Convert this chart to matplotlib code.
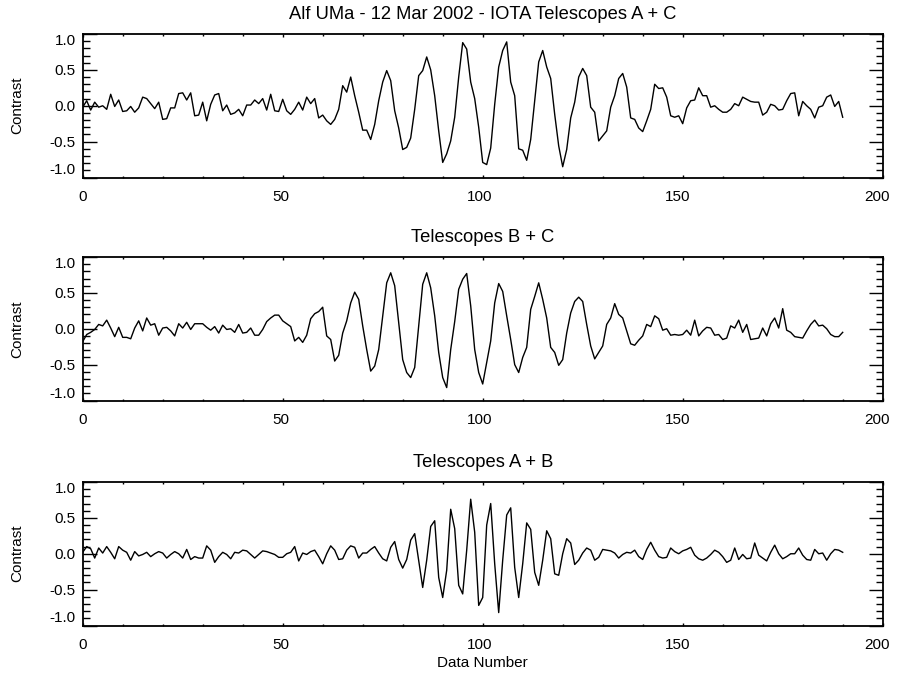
import numpy as np
import matplotlib.pyplot as plt
import matplotlib.transforms as mtransforms
from matplotlib.ticker import MultipleLocator, FixedLocator

# contrast values (data numbers 0..190)
contrast_ac = ([-0.02, 0.07, -0.06, 0.05, -0.02, 0.0, -0.05, 0.16, -0.01, 0.08,
                -0.08, -0.07, -0.01, -0.09, -0.03, 0.12, 0.10, 0.03, -0.04, 0.05,
                -0.19, -0.18, -0.03, -0.03, 0.17, 0.18, 0.08, 0.18, -0.14, -0.13,
                0.05, -0.21, 0.02, 0.15, 0.17, -0.07, 0.01, -0.12, -0.10, -0.05,
                -0.14, 0.01, 0.01, 0.08, 0.03, 0.10, -0.06, 0.16, -0.07, -0.08]
               + [0.09, -0.07, -0.12, -0.05, 0.05, -0.06, 0.12, 0.03, 0.10, -0.17,
                  -0.13, -0.21, -0.26, -0.19, -0.05, 0.28, 0.19, 0.40, 0.14, -0.09,
                  -0.34, -0.34, -0.47, -0.26, 0.07, 0.33, 0.49, 0.35, -0.07, -0.31,
                  -0.61, -0.58, -0.45, -0.05, 0.42, 0.49, 0.68, 0.50, 0.14, -0.35,
                  -0.79, -0.67, -0.49, -0.16, 0.40, 0.88, 0.79, 0.33, 0.10, -0.30]
               + [-0.79, -0.82, -0.59, 0.02, 0.54, 0.77, 0.89, 0.33, 0.14, -0.60,
                  -0.62, -0.76, -0.47, 0.07, 0.61, 0.77, 0.54, 0.38, -0.12, -0.56,
                  -0.85, -0.61, -0.17, 0.05, 0.40, 0.52, 0.42, -0.02, -0.09, -0.49,
                  -0.42, -0.35, -0.02, 0.14, 0.38, 0.45, 0.26, -0.17, -0.19, -0.31,
                  -0.36, -0.21, -0.05, 0.30, 0.24, 0.25, 0.12, -0.14, -0.16, -0.14]
               + [-0.25, -0.03, 0.07, 0.08, 0.25, 0.14, 0.14, -0.02, 0.0, -0.05,
                  -0.09, -0.09, -0.05, 0.03, 0.0, 0.12, 0.09, 0.06, 0.05, 0.05,
                  -0.13, -0.09, 0.02, 0.0, -0.06, -0.05, 0.07, 0.17, 0.18, -0.14,
                  0.06, 0.0, -0.05, -0.17, -0.02, 0.0, 0.12, 0.15, -0.01, 0.06,
                  -0.16])

contrast_bc = ([-0.18, -0.08, -0.05, -0.01, 0.06, 0.04, 0.12, 0.01, -0.11, 0.02,
                -0.12, -0.12, -0.14, 0.01, 0.11, -0.03, 0.15, 0.05, 0.07, -0.09,
                0.01, 0.02, -0.03, -0.10, 0.07, 0.01, 0.09, -0.01, 0.07, 0.07,
                0.07, 0.02, -0.02, 0.03, -0.06, 0.05, -0.01, 0.0, -0.05, 0.06,
                -0.06, -0.05, 0.01, -0.09, -0.09, -0.01, 0.10, 0.15]
               + [0.19, 0.19, 0.11, 0.07, 0.03, -0.17, -0.12, -0.19, -0.09, 0.14,
                  0.21, 0.24, 0.30, -0.10, -0.15, -0.45, -0.37, -0.06, 0.11, 0.36,
                  0.51, 0.41, 0.04, -0.29, -0.59, -0.52, -0.29, 0.17, 0.64, 0.78,
                  0.60, 0.08, -0.43, -0.61, -0.68, -0.54, 0.04, 0.62, 0.78, 0.57,
                  0.18, -0.33, -0.68, -0.82, -0.29, 0.10, 0.55, 0.69, 0.77, 0.32,
                  -0.29, -0.61]
               + [-0.77, -0.47, -0.17, 0.36, 0.63, 0.52, 0.18, -0.15, -0.50, -0.61,
                  -0.40, -0.26, 0.27, 0.45, 0.64, 0.41, 0.15, -0.26, -0.33, -0.51,
                  -0.43, -0.06, 0.22, 0.38, 0.44, 0.38, 0.06, -0.24, -0.42, -0.33,
                  -0.24, 0.06, 0.15, 0.35, 0.20, 0.15, -0.03, -0.21, -0.23, -0.16,
                  -0.10, 0.06, 0.03, 0.18, 0.14, -0.02, 0.0, -0.09, -0.08, -0.09]
               + [-0.08, -0.02, -0.09, 0.12, -0.10, -0.03, 0.02, 0.01, -0.09, -0.08,
                  -0.15, -0.13, 0.04, 0.01, 0.12, -0.05, 0.06, -0.15, -0.14, -0.13,
                  0.01, -0.10, 0.07, 0.15, 0.01, 0.28, -0.02, -0.05, -0.11, -0.12,
                  -0.13, -0.03, 0.06, 0.12, 0.04, 0.05, 0.0, -0.08, -0.11, -0.11,
                  -0.05])

contrast_ab = ([0.02, 0.10, 0.07, -0.06, 0.08, 0.01, 0.10, 0.02, -0.07, 0.10,
                0.05, 0.02, -0.09, 0.03, -0.03, -0.01, 0.02, -0.04, 0.0, 0.03,
                0.01, -0.06, -0.01, 0.03, 0.0, -0.06, 0.06, -0.08, -0.04, -0.06,
                -0.06, 0.11, 0.05, -0.12, -0.04, 0.02, -0.01, -0.07, 0.02, 0.01,
                0.05, 0.04, -0.01, -0.06, -0.01, 0.04, 0.03]
               + [0.01, -0.01, -0.05, -0.05, 0.0, 0.02, 0.10, -0.10, 0.01, -0.01,
                  0.03, 0.05, -0.04, -0.14, 0.0, 0.11, 0.05, -0.08, -0.07, 0.05,
                  0.11, 0.09, -0.06, 0.01, 0.01, 0.06, 0.10, 0.01, -0.07, -0.10,
                  0.09, 0.17, -0.08, -0.20, -0.08, 0.19, 0.28, -0.09, -0.47, -0.09,
                  0.38, 0.46, -0.33, -0.61, -0.23, 0.62, 0.35, -0.44, -0.56, 0.05,
                  0.76]
               + [0.30, -0.72, -0.61, 0.40, 0.70, -0.14, -0.82, -0.09, 0.54, 0.64,
                  -0.19, -0.61, -0.14, 0.43, 0.34, -0.26, -0.44, -0.09, 0.32, 0.21,
                  -0.28, -0.30, 0.0, 0.21, 0.15, -0.15, -0.09, 0.01, 0.08, 0.05,
                  -0.09, -0.05, 0.06, 0.05, 0.04, 0.01, -0.06, -0.01, 0.02, 0.01,
                  0.05, -0.04, -0.08, 0.06, 0.16, 0.05, -0.04, -0.06, -0.05, 0.08,
                  0.03, 0.0]
               + [0.04, 0.06, 0.09, -0.02, -0.07, -0.09, -0.06, -0.01, 0.05, 0.02,
                  -0.04, -0.12, -0.09, 0.08, -0.08, -0.01, -0.07, -0.06, 0.15, -0.02,
                  -0.06, -0.10, 0.02, 0.12, 0.0, -0.07, -0.04, 0.0, 0.0, 0.08,
                  -0.02, -0.08, -0.09, 0.06, 0.0, 0.01, -0.09, 0.0, 0.06, 0.05,
                  0.02])

titles = ['Alf UMa - 12 Mar 2002 - IOTA Telescopes A + C',
          'Telescopes B + C',
          'Telescopes A + B']
panels = [contrast_ac, contrast_bc, contrast_ab]
y_ticks = [-1.0, -0.5, 0.0, 0.5, 1.0]
x_ticks = [0, 50, 100, 150, 200]
# the IDL labels drift a little left of their ticks (pixels)
x_label_shift = [0, -2, -3, -5, -6]

plt.rcParams['font.family'] = ['Liberation Sans', 'DejaVu Sans']
plt.rcParams['font.size'] = 11

W, H = 903, 679
fig = plt.figure(figsize=(W / 100, H / 100), dpi=100)

tops = [34, 257, 482]
for k in range(3):
    data = panels[k]
    ax = fig.add_axes([82.7 / W, 1 - (tops[k] + 143.5) / H, 800 / W, 143.5 / H])
    x = np.arange(len(data))
    ax.plot(x, data, color='black', lw=1.0)
    ax.set_xlim(0, 200)
    ax.set_ylim(-1, 1)

    ax.xaxis.set_major_locator(FixedLocator(x_ticks))
    ax.xaxis.set_minor_locator(MultipleLocator(10))
    ax.yaxis.set_major_locator(FixedLocator(y_ticks))
    ax.yaxis.set_minor_locator(MultipleLocator(0.1))
    ax.set_xticklabels([str(t) for t in x_ticks])
    ax.set_yticklabels(['%.1f' % t for t in y_ticks])

    ax.tick_params(axis='both', which='both', direction='in',
                   top=True, right=True, colors='black')
    ax.tick_params(axis='y', which='major', length=10, width=1.0, pad=5)
    ax.tick_params(axis='y', which='minor', length=5, width=1.0)
    ax.tick_params(axis='x', which='major', length=2.5, width=1.0, pad=9)
    ax.tick_params(axis='x', which='minor', length=1.2, width=1.0)

    # IDL style: end labels sit inside the axis range
    ylabs = ax.get_yticklabels()
    ylabs[0].set_va('bottom')
    ylabs[-1].set_va('top')

    for lab, dx in zip(ax.get_xticklabels(), x_label_shift):
        off = mtransforms.ScaledTranslation(dx / 100, 0, fig.dpi_scale_trans)
        lab.set_transform(lab.get_transform() + off)

    for sp in ax.spines.values():
        sp.set_linewidth(1.3)

    ax.set_ylabel('Contrast')
    ax.yaxis.set_label_coords(-0.073, 0.5)
    ax.set_title(titles[k], pad=11)
    if k == 2:
        ax.set_xlabel('Data Number', labelpad=3)

fig.savefig('out.png', dpi=100)
